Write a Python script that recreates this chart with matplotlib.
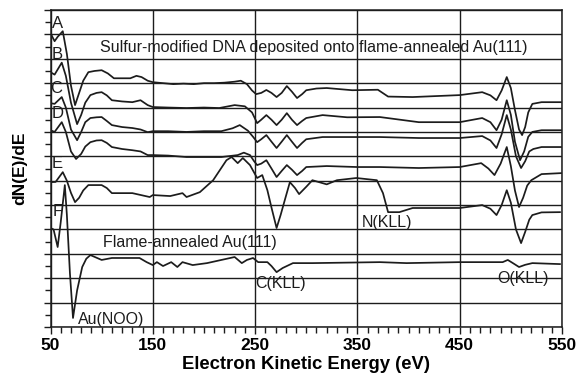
import numpy as np
import matplotlib
matplotlib.use("Agg")
import matplotlib.pyplot as plt
from matplotlib.ticker import MultipleLocator, NullFormatter

plt.rcParams['font.family'] = ['Liberation Sans', 'DejaVu Sans']

# ---- spectra (energy in eV, dN/dE in grid units) ----
e_A = [50, 54, 57, 62, 66, 70, 74, 78, 82, 87, 93, 100, 106, 112, 120, 128, 134, 139, 145, 150,
       160, 170, 180, 190, 200, 210, 220, 230, 236, 242, 247, 251, 256, 261, 266, 271, 276, 281,
       286, 291, 296, 300, 310, 320, 345, 370, 380, 404, 450, 472, 480, 486, 491, 496, 500, 504,
       508, 511, 514, 517, 521, 530, 549]
y_A = [12.05, 11.72, 11.9, 12.13, 11.2, 9.9, 9.10, 9.6, 10.1, 10.45, 10.5, 10.53, 10.4, 10.2,
       10.2, 10.2, 10.3, 10.25, 10.1, 10.04, 10.0, 9.96, 9.98, 9.96, 10.0, 10.0, 10.02, 10.06,
       10.1, 9.96, 9.7, 9.55, 9.6, 9.72, 9.6, 9.43, 9.6, 9.88, 9.65, 9.39, 9.55, 9.71, 9.78, 9.8,
       9.71, 9.73, 9.45, 9.43, 9.51, 9.63, 9.5, 9.30, 9.7, 10.25, 9.8, 8.9, 8.1, 7.87, 8.2, 8.8,
       9.15, 9.22, 9.22]

e_B = [50, 54, 61, 65, 70, 76, 80, 84, 89, 95, 100, 105, 110, 120, 130, 138, 145, 150,
       165, 183, 200, 215, 230, 240, 247, 252, 256, 261, 266, 271, 276, 281, 286, 291, 296, 300,
       316, 340, 372, 410, 450, 472, 480, 486, 491, 496, 500, 504, 509, 513, 517, 521, 530, 549]
y_B = [10.45, 10.35, 10.84, 10.3, 9.2, 8.32, 8.7, 9.2, 9.51, 9.6, 9.63, 9.5, 9.30, 9.25, 9.22,
       9.3, 9.10, 9.02, 9.0, 8.98, 9.0, 8.98, 9.1, 9.05, 8.8, 8.36, 8.5, 8.69, 8.5, 8.28, 8.5,
       8.77, 8.5, 8.28, 8.45, 8.57, 8.69, 8.6, 8.61, 8.40, 8.40, 8.57, 8.4, 8.07, 8.5, 9.30, 8.7,
       7.6, 6.84, 7.2, 7.8, 8.0, 8.07, 8.07]

e_C = [50, 54, 61, 65, 70, 76, 80, 84, 89, 95, 100, 105, 110, 120, 130, 138, 145, 150,
       165, 183, 200, 217, 228, 235, 243, 248, 252, 256, 261, 266, 271, 276, 281, 286, 291, 296,
       300, 316, 350, 372, 410, 450, 472, 480, 486, 491, 496, 500, 505, 510, 514, 518, 522, 530, 549]
y_C = [9.18, 9.15, 9.43, 9.0, 8.1, 7.66, 8.0, 8.4, 8.57, 8.6, 8.61, 8.45, 8.28, 8.2, 8.16,
       8.1, 7.99, 8.03, 8.03, 8.0, 8.03, 8.03, 8.15, 8.28, 8.05, 7.8, 7.58, 7.7, 7.87, 7.6, 7.34,
       7.6, 7.87, 7.6, 7.34, 7.55, 7.7, 7.79, 7.79, 7.79, 7.75, 7.75, 7.83, 7.65, 7.34, 7.9, 8.69,
       8.1, 7.0, 6.52, 6.8, 7.2, 7.3, 7.38, 7.38]

e_D = [50, 54, 61, 65, 70, 75, 80, 84, 89, 95, 100, 105, 110, 120, 130, 138, 145, 150,
       165, 183, 200, 217, 233, 239, 245, 249, 252, 256, 261, 266, 271, 276, 281, 286, 291, 296,
       300, 320, 350, 372, 410, 450, 471, 478, 484, 490, 496, 500, 504, 508, 512, 516, 520, 530, 549]
y_D = [8.07, 8.0, 8.40, 8.0, 7.2, 6.89, 7.1, 7.4, 7.58, 7.65, 7.66, 7.55, 7.38, 7.3, 7.25,
       7.2, 7.05, 7.05, 7.03, 6.97, 6.97, 6.97, 7.05, 7.15, 7.05, 6.8, 6.64, 6.7, 6.84, 6.5, 6.15,
       6.4, 6.64, 6.45, 6.23, 6.4, 6.56, 6.6, 6.56, 6.56, 6.52, 6.56, 6.72, 6.5, 6.23, 6.7, 7.38,
       6.6, 5.6, 4.92, 5.3, 5.8, 6.02, 6.27, 6.31]

e_E = [50, 55, 62, 66, 70, 74, 78, 82, 87, 93, 100, 105, 110, 120, 130, 147, 150, 167, 179, 183,
       196, 209, 222, 227, 233, 238, 245, 252, 257, 262, 266, 271, 275, 279, 284, 289, 293, 300,
       306, 320, 330, 349, 369, 375, 380, 391, 404, 450, 472, 480, 486, 491, 496, 500, 505, 510,
       514, 518, 521, 530, 548]
y_E = [5.94, 5.95, 6.35, 6.0, 5.5, 5.12, 5.3, 5.6, 5.82, 5.82, 5.82, 5.7, 5.49, 5.49, 5.49,
       5.33, 5.41, 5.37, 5.49, 5.33, 5.53, 6.02, 6.84, 6.97, 6.72, 6.93, 6.64, 6.11, 6.23, 5.61,
       4.9, 4.06, 4.6, 5.2, 5.94, 5.7, 5.45, 5.75, 6.02, 5.85, 6.02, 6.11, 6.02, 5.49, 4.71, 4.71,
       4.88, 4.88, 5.00, 4.85, 4.59, 5.0, 5.61, 5.1, 4.0, 3.44, 3.9, 4.4, 4.59, 4.7, 4.71]

e_F = [50, 53, 57, 60, 64, 66, 69, 72, 76, 81, 85, 89, 100, 110, 137, 144, 150, 154, 160, 168,
       174, 179, 189, 203, 230, 237, 242, 248, 253, 262, 266, 271, 277, 287, 306, 372, 398, 450,
       492, 497, 502, 508, 514, 521, 548]
y_F = [4.06, 4.0, 3.28, 4.3, 5.82, 4.6, 2.2, 0.37, 1.5, 2.46, 2.8, 2.95, 2.75, 2.83, 2.83, 2.66,
       2.54, 2.66, 2.50, 2.66, 2.46, 2.66, 2.54, 2.62, 2.87, 2.62, 2.75, 2.83, 2.66, 2.66, 2.5,
       2.25, 2.42, 2.62, 2.62, 2.66, 2.62, 2.66, 2.66, 2.75, 2.62, 2.46, 2.55, 2.62, 2.58]

series = [(e_A, y_A), (e_B, y_B), (e_C, y_C), (e_D, y_D), (e_E, y_E), (e_F, y_F)]

curve_labels = ['A', 'B', 'C', 'D', 'E', 'F']
curve_label_x = [57.3, 56.3, 55.4, 57.3, 56.3, 57.3]
curve_label_y = [12.46, 11.19, 9.80, 8.77, 6.72, 4.75]

peak_labels = ['Au(NOO)', 'C(KLL)', 'N(KLL)', 'O(KLL)']
peak_label_x = [77, 249.7, 354, 487]
peak_label_y = [0.29, 1.80, 4.30, 1.97]

fig = plt.figure(figsize=(5.78, 3.74), dpi=100)
ax = fig.add_axes([50.5 / 578, 47 / 374, 511.5 / 578, 317 / 374])

ink = '#1c1c1c'
for e, y in series:
    ax.plot(e, y, color=ink, lw=1.25, zorder=3, solid_joinstyle='round')

ax.set_xlim(50, 550)
ax.set_ylim(0, 13)

ax.set_xticks(np.arange(50, 551, 100))
ax.xaxis.set_minor_locator(MultipleLocator(10))
ax.set_yticks(np.arange(0, 14, 1))
ax.yaxis.set_minor_locator(MultipleLocator(0.5))
ax.yaxis.set_major_formatter(NullFormatter())
ax.tick_params(axis='both', which='both', direction='out', color=ink, width=1.0)
ax.tick_params(axis='both', which='major', length=5)
ax.tick_params(axis='both', which='minor', length=4)
ax.tick_params(axis='x', labelsize=12.5, pad=3)
for lbl in ax.get_xticklabels():
    lbl.set_fontweight('bold')

ax.grid(True, which='major', color=ink, lw=1.0)
for s in ax.spines.values():
    s.set_color(ink)
    s.set_linewidth(1.1)

ax.set_xlabel('Electron Kinetic Energy (eV)', fontsize=13.3, fontweight='bold', labelpad=2)
ax.set_ylabel('dN(E)/dE', fontsize=12.5, fontweight='bold', labelpad=8)

for t, x, y in zip(curve_labels, curve_label_x, curve_label_y):
    ax.text(x, y, t, fontsize=12, ha='center', va='center', color=ink, zorder=4)

ax.text(98.3, 11.48, 'Sulfur-modified DNA deposited onto flame-annealed Au(111)',
        fontsize=11.5, ha='left', va='center', color=ink, zorder=4)
ax.text(101.3, 3.48, 'Flame-annealed Au(111)', fontsize=11.5, ha='left', va='center',
        color=ink, zorder=4)
for t, x, y in zip(peak_labels, peak_label_x, peak_label_y):
    ax.text(x, y, t, fontsize=11.5, ha='left', va='center', color=ink, zorder=4)

fig.savefig('out.png', dpi=100)
